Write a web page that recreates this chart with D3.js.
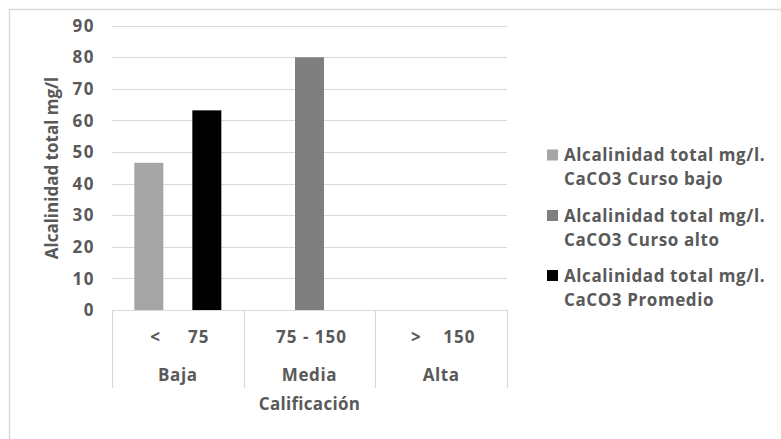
<!DOCTYPE html>
<html><head><meta charset="utf-8">
<script src="https://cdn.jsdelivr.net/npm/d3@7"></script>
<style>
html,body{margin:0;padding:0;background:#fff;}
svg text{font-family:"Open Sans",sans-serif;font-weight:bold;fill:#595959;font-size:17px;}
</style></head>
<body><svg id="c" width="781" height="439"></svg>
<script>
const groups = ["Baja", "Media", "Alta"];
const rangeLabels = ["<     75", "75 - 150", ">    150"];
const seriesNames = [
  ["Alcalinidad total mg/l.", "CaCO3 Curso bajo"],
  ["Alcalinidad total mg/l.", "CaCO3 Curso alto"],
  ["Alcalinidad total mg/l.", "CaCO3 Promedio"]
];
const seriesColors = ["#a5a5a5", "#7f7f7f", "#000000"];
const cursoBajo = [46.6, null, null];
const cursoAlto = [null, 80, null];
const promedio = [63.2, null, null];
const seriesValues = [cursoBajo, cursoAlto, promedio];
const yTicks = [0, 10, 20, 30, 40, 50, 60, 70, 80, 90];
const yTitle = "Alcalinidad total mg/l";
const xTitle = "Calificación";

const svg = d3.select("#c");
svg.append("rect").attr("x", 9.5).attr("y", 9.5).attr("width", 900).attr("height", 600)
  .attr("fill", "#fff").attr("stroke", "#d9d9d9").attr("stroke-width", 1.5);

const L = 112, R = 507, T = 25.7, B = 310;
const x = d3.scaleBand().domain(groups).range([L, R]).paddingInner(0).paddingOuter(0);
const xi = d3.scaleBand().domain(d3.range(3)).range([0, x.bandwidth()]).paddingOuter(0.77).paddingInner(0);
const y = d3.scaleLinear().domain([0, 90]).range([B, T]);

// gridlines
svg.append("g").selectAll("line").data(yTicks.filter(d => d > 0)).join("line")
  .attr("x1", L).attr("x2", R).attr("y1", d => Math.round(y(d)) + 0.5).attr("y2", d => Math.round(y(d)) + 0.5)
  .attr("stroke", "#d9d9d9").attr("stroke-width", 1.2);

// y labels
svg.append("g").selectAll("text").data(yTicks).join("text")
  .attr("x", 95).attr("y", d => y(d)).attr("dy", "0.36em").attr("text-anchor", "end")
  .style("letter-spacing", "1.5px").text(d => d);

// bars
seriesValues.forEach((vals, si) => {
  svg.append("g").selectAll("rect").data(groups.map((g, i) => ({g, v: vals[i]})).filter(d => d.v != null)).join("rect")
    .attr("x", d => x(d.g) + xi(si)).attr("width", xi.bandwidth())
    .attr("y", d => y(d.v)).attr("height", d => y(0) - y(d.v))
    .attr("fill", seriesColors[si]);
});

// x axis line + separators
svg.append("line").attr("x1", L).attr("x2", R).attr("y1", B + 0.5).attr("y2", B + 0.5)
  .attr("stroke", "#d9d9d9").attr("stroke-width", 1.2);
const seps = groups.map(g => x(g)).concat([R]);
svg.append("g").selectAll("line").data(seps).join("line")
  .attr("x1", d => Math.round(d) + 0.5).attr("x2", d => Math.round(d) + 0.5).attr("y1", B).attr("y2", 388)
  .attr("stroke", "#d9d9d9").attr("stroke-width", 1.2);

svg.append("g").selectAll("text").data(groups).join("text")
  .attr("x", (d) => x(d) + x.bandwidth() / 2 + 2).attr("y", 337).attr("dy", "0.36em").attr("text-anchor", "middle")
  .attr("xml:space", "preserve").style("white-space", "pre").style("letter-spacing", "1px")
  .text((d, i) => rangeLabels[i]);
svg.append("g").selectAll("text").data(groups).join("text")
  .attr("x", d => x(d) + x.bandwidth() / 2).attr("y", 375).attr("dy", "0.36em").attr("text-anchor", "middle")
  .style("letter-spacing", "0.6px").text(d => d);
svg.append("text").attr("x", (L + R) / 2).attr("y", 404).attr("dy", "0.36em").attr("text-anchor", "middle")
  .style("letter-spacing", "0.3px").text(xTitle);

svg.append("text").attr("transform", `translate(52,168) rotate(-90)`).attr("dy", "0.36em")
  .attr("text-anchor", "middle").style("letter-spacing", "0px").text(yTitle);

// legend
const lg = svg.append("g");
const ly = [155, 215.5, 275.5];
seriesNames.forEach((nm, i) => {
  lg.append("rect").attr("x", 547).attr("y", ly[i] - 5.5).attr("width", 11).attr("height", 11).attr("fill", seriesColors[i]);
  nm.forEach((t, j) => {
    lg.append("text").attr("x", 564).attr("y", ly[i] + j * 24).attr("dy", "0.36em")
      .style("letter-spacing", "0.6px").text(t);
  });
});
</script></body></html>
